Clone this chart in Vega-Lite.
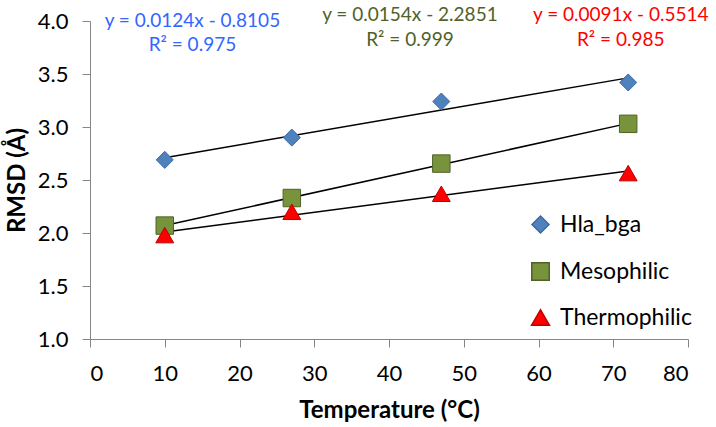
{
  "$schema": "https://vega.github.io/schema/vega-lite/v6.json",
  "width": 598,
  "height": 318,
  "autosize": {"type": "none"},
  "padding": {"left": 90, "top": 21, "right": 28, "bottom": 88},
  "background": "white",
  "config": {
    "view": {"stroke": null},
    "font": "Lato",
    "axis": {
      "domainColor": "#868686",
      "tickColor": "#868686",
      "tickSize": 8,
      "grid": false,
      "labelColor": "#000000",
      "labelFontSize": 22,
      "labelFont": "Lato",
      "titleFont": "Lato",
      "titleFontSize": 24,
      "titleFontWeight": "bold",
      "titleColor": "#000000"
    }
  },
  "datasets": {
    "pts": [
      {"series": "Hla_bga", "temp": 10, "rmsd": 2.69},
      {"series": "Hla_bga", "temp": 27, "rmsd": 2.90},
      {"series": "Hla_bga", "temp": 47, "rmsd": 3.24},
      {"series": "Hla_bga", "temp": 72, "rmsd": 3.42},
      {"series": "Mesophilic", "temp": 10, "rmsd": 2.07},
      {"series": "Mesophilic", "temp": 27, "rmsd": 2.33},
      {"series": "Mesophilic", "temp": 47, "rmsd": 2.655},
      {"series": "Mesophilic", "temp": 72, "rmsd": 3.03},
      {"series": "Thermophilic", "temp": 10, "rmsd": 1.98},
      {"series": "Thermophilic", "temp": 27, "rmsd": 2.20},
      {"series": "Thermophilic", "temp": 47, "rmsd": 2.37},
      {"series": "Thermophilic", "temp": 72, "rmsd": 2.565}
    ],
    "labels": [
      {"t": "y = 0.0124x - 0.8105", "x": 13.7, "y": 4.0, "c": "blue"},
      {"t": "R² = 0.975", "x": 13.7, "y": 3.77, "c": "blue"},
      {"t": "y = 0.0154x - 2.2851", "x": 42.8, "y": 4.054, "c": "green"},
      {"t": "R² = 0.999", "x": 42.8, "y": 3.818, "c": "green"},
      {"t": "y = 0.0091x - 0.5514", "x": 71.0, "y": 4.054, "c": "red"},
      {"t": "R² = 0.985", "x": 71.0, "y": 3.818, "c": "red"}
    ]
  },
  "layer": [
    {
      "data": {"name": "pts"},
      "transform": [{"regression": "rmsd", "on": "temp", "groupby": ["series"]}],
      "mark": {"type": "line", "color": "#000000", "strokeWidth": 1.5},
      "encoding": {
        "x": {"field": "temp", "type": "quantitative", "scale": {"domain": [0, 80]}},
        "y": {"field": "rmsd", "type": "quantitative", "scale": {"domain": [1, 4]}},
        "detail": {"field": "series"}
      }
    },
    {
      "data": {"name": "pts"},
      "mark": {"type": "point", "filled": true, "opacity": 1, "strokeWidth": 1},
      "encoding": {
        "x": {
          "field": "temp", "type": "quantitative",
          "scale": {"domain": [0, 80]},
          "axis": {"values": [0, 10, 20, 30, 40, 50, 60, 70, 80], "title": "Temperature (°C)", "labelPadding": 16, "titlePadding": 14}
        },
        "y": {
          "field": "rmsd", "type": "quantitative",
          "scale": {"domain": [1, 4]},
          "axis": {"values": [1, 1.5, 2, 2.5, 3, 3.5, 4], "format": ".1f", "title": "RMSD (Å)", "labelPadding": 14, "titlePadding": 8}
        },
        "color": {
          "field": "series", "type": "nominal",
          "scale": {"domain": ["Hla_bga", "Mesophilic", "Thermophilic"], "range": ["#4F81BD", "#77933C", "#FF0000"]},
          "legend": {
            "title": null, "orient": "none", "legendX": 439, "legendY": 192,
            "labelFontSize": 23, "labelFont": "Lato", "labelColor": "#000000",
            "symbolSize": 280, "rowPadding": 22, "labelOffset": 8, "padding": 0
          }
        },
        "shape": {
          "field": "series", "type": "nominal",
          "scale": {"domain": ["Hla_bga", "Mesophilic", "Thermophilic"], "range": ["diamond", "square", "triangle-up"]},
          "legend": {
            "title": null, "orient": "none", "legendX": 439, "legendY": 192,
            "labelFontSize": 23, "labelFont": "Lato", "labelColor": "#000000",
            "symbolSize": 280, "rowPadding": 22, "labelOffset": 8, "padding": 0
          }
        },
        "stroke": {
          "field": "series", "type": "nominal",
          "scale": {"domain": ["Hla_bga", "Mesophilic", "Thermophilic"], "range": ["#3A6AA5", "#4F6228", "#C00000"]},
          "legend": null
        },
        "size": {
          "field": "series", "type": "nominal",
          "scale": {"domain": ["Hla_bga", "Mesophilic", "Thermophilic"], "range": [290, 320, 330]},
          "legend": null
        }
      }
    },
    {
      "data": {"name": "labels"},
      "transform": [{"filter": "datum.c == 'blue'"}],
      "mark": {"type": "text", "fontSize": 19, "font": "Lato", "align": "center", "baseline": "middle", "color": "#3366FF"},
      "encoding": {
        "x": {"field": "x", "type": "quantitative"},
        "y": {"field": "y", "type": "quantitative"},
        "text": {"field": "t"}
      }
    },
    {
      "data": {"name": "labels"},
      "transform": [{"filter": "datum.c == 'green'"}],
      "mark": {"type": "text", "fontSize": 19, "font": "Lato", "align": "center", "baseline": "middle", "color": "#4F6228"},
      "encoding": {
        "x": {"field": "x", "type": "quantitative"},
        "y": {"field": "y", "type": "quantitative"},
        "text": {"field": "t"}
      }
    },
    {
      "data": {"name": "labels"},
      "transform": [{"filter": "datum.c == 'red'"}],
      "mark": {"type": "text", "fontSize": 19, "font": "Lato", "align": "center", "baseline": "middle", "color": "#FF0000"},
      "encoding": {
        "x": {"field": "x", "type": "quantitative"},
        "y": {"field": "y", "type": "quantitative"},
        "text": {"field": "t"}
      }
    }
  ]
}
